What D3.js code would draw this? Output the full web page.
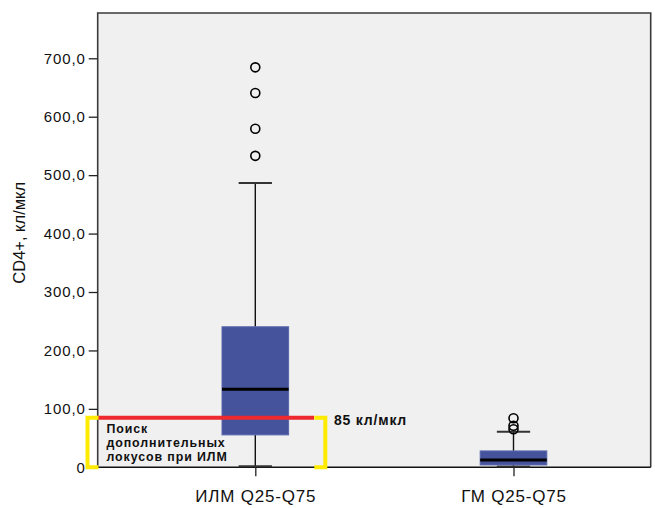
<!DOCTYPE html>
<html>
<head>
<meta charset="utf-8">
<script src="https://cdn.jsdelivr.net/npm/d3@7/dist/d3.min.js"></script>
<style>
  html, body { margin: 0; padding: 0; background: #fff; }
  svg { display: block; }
  text { font-family: "Liberation Sans", Arial, Helvetica, sans-serif; fill: #111; }
</style>
</head>
<body>
<svg id="chart" width="655" height="508"></svg>
<script>
// Groups and their box-plot summaries (CD4+ cells per microlitre)
const groups = ["ИЛМ Q25-Q75", "ГМ Q25-Q75"];
const whiskerLow = [2, 1.5];
const q1 = [55.5, 4];
const median = [133.5, 12.5];
const q3 = [240.5, 28];
const whiskerHigh = [486.5, 61];
const outliers = [[533, 579.5, 640.5, 684.5], [65, 71, 84]];

const yTicks = [0, 100, 200, 300, 400, 500, 600, 700];
const yMax = 777.5;
const threshold = 85;
const thresholdLabel = "85 кл/мкл";
const noteLines = ["Поиск", "дополнительных", "локусов при ИЛМ"];
const yTitle = "CD4+, кл/мкл";

const svg = d3.select("#chart");
const plot = { left: 97.7, right: 650.7, top: 13, bottom: 467.3 };

const y = d3.scaleLinear().domain([0, yMax]).range([plot.bottom, plot.top]);
const x = d3.scalePoint().domain(groups).range([255.3, 513.5]);
const boxW = 66.6;

// plot background and frame
svg.append("rect")
  .attr("x", plot.left).attr("y", plot.top)
  .attr("width", plot.right - plot.left).attr("height", plot.bottom - plot.top)
  .attr("fill", "#f0f0f0");
svg.append("path")
  .attr("d", `M${plot.left},${plot.bottom}V${plot.top}H${plot.right}V${plot.bottom}`)
  .attr("fill", "none").attr("stroke", "#3a3a3a").attr("stroke-width", 1.6);

// y axis
const yAxis = d3.axisLeft(y).tickValues(yTicks).tickSize(9).tickPadding(3)
  .tickFormat(d => d === 0 ? "0" : d3.format(".1f")(d).replace(".", ","));
const ya = svg.append("g").attr("transform", `translate(${plot.left},0)`).call(yAxis);
ya.select(".domain").remove();
ya.selectAll(".tick line").attr("stroke", "#222").attr("stroke-width", 1.3);
ya.selectAll(".tick text").attr("font-size", 15).attr("letter-spacing", 0.9).attr("fill", "#111");

// x axis
const xAxis = d3.axisBottom(x).tickSize(9).tickPadding(14);
const xa = svg.append("g").attr("transform", `translate(0,${plot.bottom})`).call(xAxis);
xa.select(".domain").attr("d", `M${plot.left},0H${plot.right}`).attr("stroke", "#111").attr("stroke-width", 1.6);
xa.selectAll(".tick line").attr("stroke", "#222").attr("stroke-width", 1.3);
xa.selectAll(".tick text").attr("font-size", 17).attr("fill", "#111").attr("letter-spacing", 0.8);

// y title
svg.append("text")
  .attr("transform", `translate(25,${(y(0) + y(700)) / 2 - 30}) rotate(-90)`)
  .attr("text-anchor", "middle").attr("font-size", 16.5).text(yTitle);

// boxes
const g = svg.append("g");
groups.forEach((grp, i) => {
  const cx = x(grp);
  // whisker stems
  g.append("line").attr("x1", cx).attr("x2", cx).attr("y1", y(q3[i])).attr("y2", y(whiskerHigh[i]))
    .attr("stroke", "#111").attr("stroke-width", 1.4);
  g.append("line").attr("x1", cx).attr("x2", cx).attr("y1", y(q1[i])).attr("y2", y(whiskerLow[i]))
    .attr("stroke", "#111").attr("stroke-width", 1.4);
  // caps
  [whiskerHigh[i], whiskerLow[i]].forEach(v => {
    g.append("line").attr("x1", cx - boxW / 4).attr("x2", cx + boxW / 4)
      .attr("y1", y(v)).attr("y2", y(v)).attr("stroke", "#333").attr("stroke-width", 2);
  });
  // box
  g.append("rect").attr("x", cx - boxW / 2).attr("width", boxW)
    .attr("y", y(q3[i])).attr("height", y(q1[i]) - y(q3[i]))
    .attr("fill", "#45529c").attr("stroke", "#5866aa").attr("stroke-width", 1);
  // median
  g.append("line").attr("x1", cx - boxW / 2).attr("x2", cx + boxW / 2)
    .attr("y1", y(median[i])).attr("y2", y(median[i])).attr("stroke", "#000").attr("stroke-width", 3);
  // outliers
  outliers[i].forEach(v => {
    g.append("circle").attr("cx", cx).attr("cy", y(v)).attr("r", 4.5)
      .attr("fill", "none").attr("stroke", "#000").attr("stroke-width", 1.6);
  });
});

// threshold annotation
const bx0 = 87.5, bx1 = 325.3;
svg.append("line").attr("x1", plot.left).attr("x2", 314).attr("y1", y(threshold)).attr("y2", y(threshold))
  .attr("stroke", "#ee2a2f").attr("stroke-width", 4);
const bracket = (xv, dir) =>
  `M${xv + dir * 11},${y(threshold)}H${xv}V${y(0)}H${xv + dir * 11}`;
svg.append("path").attr("d", bracket(bx0, 1)).attr("fill", "none").attr("stroke", "#ffeb00").attr("stroke-width", 4);
svg.append("path").attr("d", bracket(bx1, -1)).attr("fill", "none").attr("stroke", "#ffeb00").attr("stroke-width", 4);

svg.append("text").attr("x", 334).attr("y", y(threshold) + 7)
  .attr("font-size", 14).attr("letter-spacing", 0.8).attr("font-weight", "bold").text(thresholdLabel);

const note = svg.append("g").attr("font-size", 12.4).attr("letter-spacing", 0.9).attr("font-weight", "bold");
note.selectAll("text").data(noteLines).join("text")
  .attr("x", 106.5).attr("y", (d, i) => 432.5 + i * 14.1).text(d => d);
</script>
</body>
</html>
